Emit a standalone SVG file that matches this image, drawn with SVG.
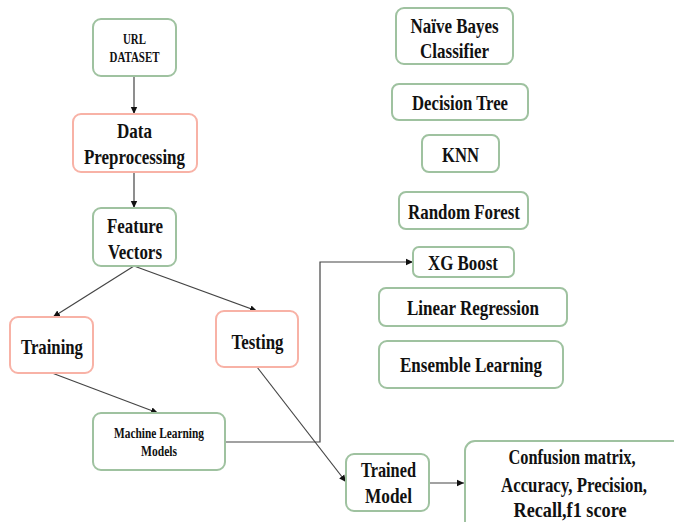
<svg xmlns="http://www.w3.org/2000/svg" width="674" height="522" viewBox="0 0 674 522">
<style>
.g{fill:#fff;stroke:#9fc2a0;stroke-width:2}
.r{fill:#fff;stroke:#f8b2a6;stroke-width:2}
text{font-family:"Liberation Serif","DejaVu Serif",serif;font-weight:bold;fill:#111;text-anchor:middle}
.s13{font-size:14px}
.s14{font-size:15px}
.s20{font-size:22px}
.c{fill:none;stroke:#444;stroke-width:1.2}
</style>
<defs>
<marker id="ah" markerUnits="userSpaceOnUse" markerWidth="8" markerHeight="8" refX="7" refY="4" orient="auto">
<path d="M0,0.8 L7,4 L0,7.2 Z" fill="#111"/>
</marker>
</defs>
<rect width="674" height="522" fill="#fff"/>
<g id="connectors">
<line class="c" x1="134" y1="76" x2="134" y2="114" marker-end="url(#ah)"/>
<line class="c" x1="134" y1="172" x2="134" y2="208" marker-end="url(#ah)"/>
<line class="c" x1="134" y1="266" x2="53" y2="317" marker-end="url(#ah)"/>
<line class="c" x1="134" y1="266" x2="257" y2="311" marker-end="url(#ah)"/>
<line class="c" x1="52" y1="373" x2="158" y2="413" marker-end="url(#ah)"/>
<polyline class="c" points="225,442 320,442 320,262 413,262" marker-end="url(#ah)"/>
<line class="c" x1="257" y1="367" x2="346" y2="482" marker-end="url(#ah)"/>
<line class="c" x1="429" y1="483" x2="464" y2="483" marker-end="url(#ah)"/>
</g>
<g id="url-dataset">
<rect class="g" x="93" y="19" width="83" height="57" rx="8"/>
<text class="s13" x="134.5" y="44" textLength="23" lengthAdjust="spacingAndGlyphs">URL</text>
<text class="s13" x="134.5" y="62" textLength="50" lengthAdjust="spacingAndGlyphs">DATASET</text>
</g>
<g id="data-preprocessing">
<rect class="r" x="73" y="114" width="124" height="58" rx="8"/>
<text class="s20" x="134.5" y="138" textLength="35" lengthAdjust="spacingAndGlyphs">Data</text>
<text class="s20" x="134.5" y="164" textLength="101" lengthAdjust="spacingAndGlyphs">Preprocessing</text>
</g>
<g id="feature-vectors">
<rect class="g" x="93" y="208" width="83" height="58" rx="8"/>
<text class="s20" x="135" y="233" textLength="56" lengthAdjust="spacingAndGlyphs">Feature</text>
<text class="s20" x="135" y="259" textLength="54" lengthAdjust="spacingAndGlyphs">Vectors</text>
</g>
<g id="training">
<rect class="r" x="10" y="317" width="83" height="56" rx="8"/>
<text class="s20" x="52" y="354" textLength="62" lengthAdjust="spacingAndGlyphs">Training</text>
</g>
<g id="testing">
<rect class="r" x="216" y="311" width="82" height="56" rx="8"/>
<text class="s20" x="257.5" y="349" textLength="52" lengthAdjust="spacingAndGlyphs">Testing</text>
</g>
<g id="ml-models">
<rect class="g" x="93" y="413" width="132" height="57" rx="8"/>
<text class="s14" x="159" y="438" textLength="90" lengthAdjust="spacingAndGlyphs">Machine Learning</text>
<text class="s14" x="159" y="456" textLength="36" lengthAdjust="spacingAndGlyphs">Models</text>
</g>
<g id="naive-bayes">
<rect class="g" x="396" y="8" width="117" height="56" rx="8"/>
<text class="s20" x="454.5" y="33" textLength="88" lengthAdjust="spacingAndGlyphs">Naïve Bayes</text>
<text class="s20" x="454.5" y="58" textLength="69" lengthAdjust="spacingAndGlyphs">Classifier</text>
</g>
<g id="decision-tree">
<rect class="g" x="392" y="84" width="136" height="36" rx="7"/>
<text class="s20" x="460" y="110" textLength="96" lengthAdjust="spacingAndGlyphs">Decision Tree</text>
</g>
<g id="knn">
<rect class="g" x="422" y="135" width="77" height="37" rx="7"/>
<text class="s20" x="460.5" y="162" textLength="37" lengthAdjust="spacingAndGlyphs">KNN</text>
</g>
<g id="random-forest">
<rect class="g" x="399" y="192" width="129" height="37" rx="7"/>
<text class="s20" x="464" y="219" textLength="112" lengthAdjust="spacingAndGlyphs">Random Forest</text>
</g>
<g id="xg-boost">
<rect class="g" x="413" y="247" width="101" height="30" rx="6"/>
<text class="s20" x="463" y="270" textLength="70" lengthAdjust="spacingAndGlyphs">XG Boost</text>
</g>
<g id="linear-regression">
<rect class="g" x="379" y="288" width="188" height="38" rx="7"/>
<text class="s20" x="473" y="315" textLength="132" lengthAdjust="spacingAndGlyphs">Linear Regression</text>
</g>
<g id="ensemble-learning">
<rect class="g" x="379" y="341" width="184" height="47" rx="8"/>
<text class="s20" x="471" y="372" textLength="142" lengthAdjust="spacingAndGlyphs">Ensemble Learning</text>
</g>
<g id="trained-model">
<rect class="g" x="346" y="454" width="83" height="57" rx="8"/>
<text class="s20" x="388.5" y="477" textLength="55" lengthAdjust="spacingAndGlyphs">Trained</text>
<text class="s20" x="388.5" y="503" textLength="47" lengthAdjust="spacingAndGlyphs">Model</text>
</g>
<g id="metrics">
<path class="g" d="M674,441 H475 A10,10 0 0 0 465,451 V522"/>
<text class="s20" x="572" y="464" textLength="127" lengthAdjust="spacingAndGlyphs">Confusion matrix,</text>
<text class="s20" x="574" y="492" textLength="146" lengthAdjust="spacingAndGlyphs">Accuracy, Precision,</text>
<text class="s20" x="570" y="517" textLength="113" lengthAdjust="spacingAndGlyphs">Recall,f1 score</text>
</g>
</svg>
